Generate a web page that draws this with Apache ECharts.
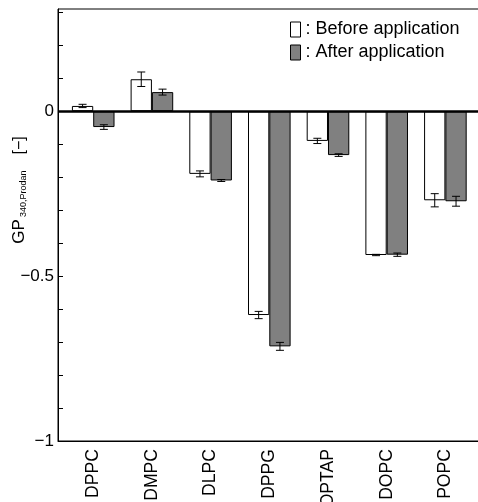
<!DOCTYPE html>
<html>
<head>
<meta charset="utf-8">
<script src="https://cdn.jsdelivr.net/npm/echarts@6/dist/echarts.min.js"></script>
<style>
html,body{margin:0;padding:0;background:#fff;}
#c{width:478px;height:502px;}
</style>
</head>
<body>
<div id="c"></div>
<script>
const categories = ['DPPC', 'DMPC', 'DLPC', 'DPPG', 'DOPTAP', 'DOPC', 'POPC'];
const beforeValues = [0.016, 0.097, -0.190, -0.618, -0.090, -0.436, -0.270];
const beforeErrors = [0.005, 0.022, 0.009, 0.011, 0.008, 0.002, 0.020];
const afterValues = [-0.048, 0.058, -0.210, -0.713, -0.133, -0.435, -0.273];
const afterErrors = [0.007, 0.009, 0.003, 0.012, 0.004, 0.005, 0.015];
const yLabelValues = [-1, -0.5, 0];
const yTickValues = [-1, -0.9, -0.8, -0.7, -0.6, -0.5, -0.4, -0.3, -0.2, -0.1, 0, 0.1, 0.2, 0.3];
const seriesNames = ['Before application', 'After application'];

const FONT = 'Liberation Sans, Arial, sans-serif';
const BAR_W = 21.3;

function barData(vals) { return vals.map((v, i) => [i, v]); }
function errData(vals, errs) { return vals.map((v, i) => [i, v, errs[i]]); }

function errRender(sign) {
  return function (params, api) {
    const x = api.value(0), v = api.value(1), e = api.value(2);
    const hi = api.coord([x, v + e]);
    const lo = api.coord([x, v - e]);
    const cx = hi[0] + sign * BAR_W / 2;
    const cap = 4;
    const style = { stroke: '#000', lineWidth: 1, fill: null };
    return {
      type: 'group',
      children: [
        { type: 'line', shape: { x1: cx, y1: hi[1], x2: cx, y2: lo[1] }, style: style },
        { type: 'line', shape: { x1: cx - cap, y1: hi[1], x2: cx + cap, y2: hi[1] }, style: style },
        { type: 'line', shape: { x1: cx - cap, y1: lo[1], x2: cx + cap, y2: lo[1] }, style: style }
      ]
    };
  };
}

const chart = echarts.init(document.getElementById('c'), null, { renderer: 'canvas' });
chart.setOption({
  animation: false,
  backgroundColor: '#fff',
  textStyle: { fontFamily: FONT },
  grid: {
    left: 58, top: 9, width: 422.6, bottom: 61,
    show: true, borderColor: '#000', borderWidth: 1, backgroundColor: 'transparent',
    containLabel: false,
    outerBoundsMode: 'none'
  },
  legend: {
    orient: 'vertical',
    left: 290, top: 20.5, padding: 0,
    itemWidth: 10, itemHeight: 15, itemGap: 5,
    icon: 'rect',
    data: seriesNames,
    formatter: n => ': ' + n,
    itemStyle: { borderWidth: 1, borderColor: '#000' },
    textStyle: { fontFamily: FONT, fontSize: 18, color: '#000' }
  },
  xAxis: {
    type: 'value',
    min: -0.6, max: 6.6,
    splitLine: { show: false },
    axisLine: { onZero: false, lineStyle: { color: '#000', width: 1 } },
    axisTick: { show: false },
    axisLabel: {
      customValues: categories.map((c, i) => i),
      formatter: v => categories[Math.round(v)] || '',
      rotate: 90, margin: 8,
      fontFamily: FONT, fontSize: 17.6, color: '#000'
    }
  },
  yAxis: {
    type: 'value',
    min: -1, max: 0.31,
    splitLine: { show: false },
    axisLine: { onZero: false, lineStyle: { color: '#000', width: 1 } },
    axisTick: { inside: true, length: 5, customValues: yTickValues, lineStyle: { color: '#000' } },
    axisLabel: {
      customValues: yLabelValues,
      formatter: v => (v < 0 ? '\u2212' + String(Math.abs(v)) : String(v)),
      margin: 4, fontFamily: FONT, fontSize: 17, color: '#000'
    },
    name: 'GP{sub|340,Prodan}{br|[\u2212]}',
    nameLocation: 'middle',
    nameGap: 30,
    nameMoveOverlap: false,
    nameTextStyle: {
      fontFamily: FONT, fontSize: 17, color: '#000',
      padding: [0, 0, 0, 70],
      rich: {
        sub: { fontFamily: FONT, fontSize: 9, color: '#000', verticalAlign: 'bottom', padding: [0, 0, 0, 2] },
        br: { fontFamily: FONT, fontSize: 16, color: '#000', padding: [0, 0, 0, 16] }
      }
    }
  },
  series: [
    {
      name: seriesNames[0], type: 'bar',
      data: barData(beforeValues),
      barWidth: BAR_W, barGap: '0%',
      itemStyle: { color: '#ffffff', borderColor: '#000', borderWidth: 1 },
      markLine: {
        silent: true, symbol: ['none', 'none'],
        label: { show: false },
        lineStyle: { color: '#000', width: 2.5, type: 'solid' },
        data: [{ yAxis: 0 }]
      }
    },
    {
      name: seriesNames[1], type: 'bar',
      data: barData(afterValues),
      barWidth: BAR_W, barGap: '0%',
      itemStyle: { color: '#808080', borderColor: '#000', borderWidth: 1 }
    },
    {
      type: 'custom', renderItem: errRender(-1),
      data: errData(beforeValues, beforeErrors),
      encode: { x: 0, y: 1 }, z: 5, silent: true
    },
    {
      type: 'custom', renderItem: errRender(1),
      data: errData(afterValues, afterErrors),
      encode: { x: 0, y: 1 }, z: 5, silent: true
    }
  ]
});
</script>
</body>
</html>
